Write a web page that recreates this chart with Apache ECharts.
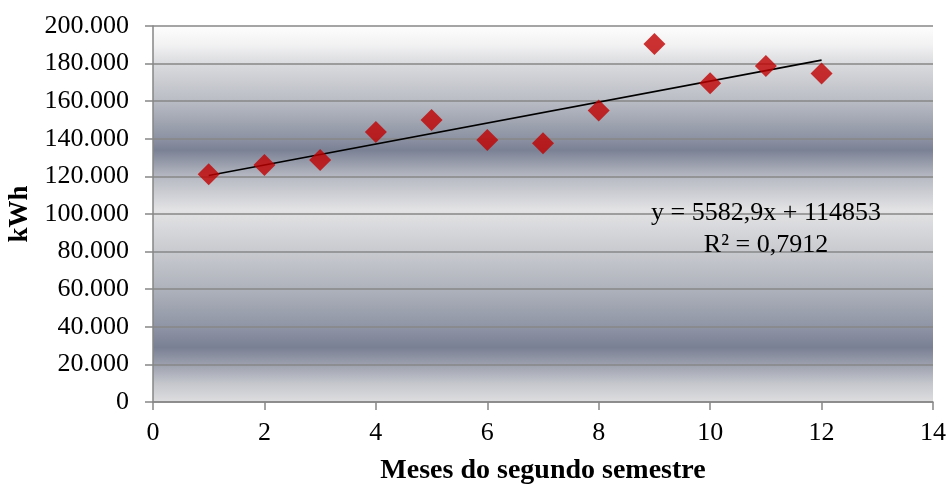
<!DOCTYPE html>
<html>
<head>
<meta charset="utf-8">
<script src="https://cdn.jsdelivr.net/npm/echarts@6/dist/echarts.min.js"></script>
<style>
  html, body { margin: 0; padding: 0; background: #ffffff; overflow: hidden; }
  #chart { width: 948px; height: 484px; }
</style>
</head>
<body>
<div id="chart"></div>
<script>
// Monthly consumption (kWh) over the months of the second semester
const months = [1, 2, 3, 4, 5, 6, 7, 8, 9, 10, 11, 12];
const consumption = [121100, 126100, 128700, 143600, 150000, 139400, 137600, 155000, 190400, 169500, 178700, 174800];

// Linear trend: y = slope * x + intercept
const trendSlope = 5582.9;
const trendIntercept = 114853;
const trendR2 = 0.7912;

const xTicks = { min: 0, max: 14, interval: 2 };
const yTicks = { min: 0, max: 200000, interval: 20000 };

const FONT = '"Liberation Serif", "Times New Roman", serif';

function fmtThousands(v) {
  return String(Math.round(v)).replace(/\B(?=(\d{3})+(?!\d))/g, '.');
}
function fmtComma(v) {
  return String(v).replace('.', ',');
}

const scatterData = months.map((m, i) => [m, consumption[i]]);
const trendX = [months[0], months[months.length - 1]];
const trendData = trendX.map(x => [x, trendSlope * x + trendIntercept]);

const chart = echarts.init(document.getElementById('chart'), null, { renderer: 'canvas' });

// Banded silver fill of the plot area
const plotBg = new echarts.graphic.LinearGradient(0, 0, 0, 1, [
  { offset: 0.00, color: '#fdfdfd' },
  { offset: 0.05, color: '#f2f2f3' },
  { offset: 0.10, color: '#dadbde' },
  { offset: 0.20, color: '#b9bcc4' },
  { offset: 0.30, color: '#8c92a2' },
  { offset: 0.33, color: '#7b8195' },
  { offset: 0.40, color: '#b6b9c2' },
  { offset: 0.49, color: '#e3e3e5' },
  { offset: 0.60, color: '#c8cacf' },
  { offset: 0.70, color: '#aeb2bb' },
  { offset: 0.80, color: '#8f95a5' },
  { offset: 0.855, color: '#7a8094' },
  { offset: 0.90, color: '#9ca0ae' },
  { offset: 0.95, color: '#c4c6cc' },
  { offset: 1.00, color: '#dedee0' }
]);

chart.setOption({
  animation: false,
  backgroundColor: '#ffffff',
  grid: {
    left: 153, right: 15, top: 26, bottom: 82,
    outerBoundsMode: 'none',
    containLabel: false,
    show: true,
    backgroundColor: plotBg,
    borderWidth: 0
  },
  xAxis: {
    type: 'value',
    min: xTicks.min, max: xTicks.max, interval: xTicks.interval,
    name: 'Meses do segundo semestre',
    nameLocation: 'middle',
    nameGap: 55,
    nameTextStyle: { fontFamily: FONT, fontSize: 28, fontWeight: 'bold', color: '#000' },
    axisLine: { show: true, lineStyle: { color: '#868686', width: 1.5 } },
    axisTick: { show: true, length: 8, inside: false, lineStyle: { color: '#868686', width: 1.5 } },
    axisLabel: { fontFamily: FONT, fontSize: 26, color: '#000', margin: 18 },
    splitLine: { show: false }
  },
  yAxis: {
    type: 'value',
    min: yTicks.min, max: yTicks.max, interval: yTicks.interval,
    name: 'kWh',
    nameLocation: 'middle',
    nameGap: 112,
    nameRotate: 90,
    nameTextStyle: { fontFamily: FONT, fontSize: 27, fontWeight: 'bold', color: '#000' },
    axisLine: { show: true, lineStyle: { color: '#868686', width: 1.5 } },
    axisTick: { show: true, length: 8, inside: false, lineStyle: { color: '#868686', width: 1.5 } },
    axisLabel: { fontFamily: FONT, fontSize: 26, color: '#000', margin: 24, formatter: fmtThousands },
    splitLine: { show: true, lineStyle: { color: '#878787', width: 1.5 } }
  },
  series: [
    {
      name: 'Tendência',
      type: 'line',
      data: trendData,
      symbol: 'none',
      lineStyle: { color: '#000000', width: 1.6 },
      z: 2
    },
    {
      name: 'Consumo',
      type: 'scatter',
      data: scatterData,
      symbol: 'diamond',
      symbolSize: 22,
      itemStyle: { color: '#c00000' },
      z: 3
    }
  ],
  graphic: [
    {
      type: 'text',
      x: 766,
      y: 229,
      style: {
        text: 'y = ' + fmtComma(trendSlope) + 'x + ' + trendIntercept + '\nR² = ' + fmtComma(trendR2),
        fontFamily: FONT,
        fontSize: 26,
        fill: '#000',
        align: 'center',
        verticalAlign: 'middle',
        lineHeight: 32
      },
      z: 10
    }
  ]
});
</script>
</body>
</html>
